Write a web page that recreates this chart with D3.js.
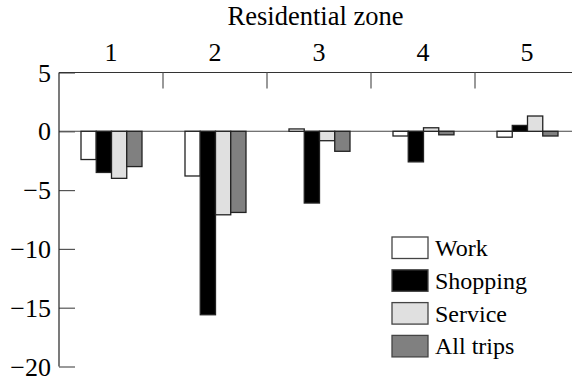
<!DOCTYPE html>
<html>
<head>
<meta charset="utf-8">
<script src="https://cdn.jsdelivr.net/npm/d3@7"></script>
<style>
  html, body { margin: 0; padding: 0; background: #fff; }
  svg { display: block; font-family: "Liberation Serif", "Times New Roman", serif; }
</style>
</head>
<body>
<svg id="chart" width="572" height="381"></svg>
<script>
// Change in trip counts by residential zone and trip purpose
const zones = ["1", "2", "3", "4", "5"];
const seriesNames = ["Work", "Shopping", "Service", "All trips"];
const work     = [-2.4, -3.8,  0.2, -0.4, -0.5];
const shopping = [-3.5, -15.6, -6.1, -2.6, 0.5];
const service  = [-4.0, -7.1, -0.8,  0.3, 1.3];
const allTrips = [-3.0, -6.9, -1.7, -0.3, -0.4];
const yTicks = [5, 0, -5, -10, -15, -20];
const fills = ["#ffffff", "#000000", "#e0e0e0", "#808080"];

const seriesValues = [work, shopping, service, allTrips];
const rows = [];
zones.forEach((z, i) => {
  seriesNames.forEach((s, j) => rows.push({ zone: z, series: s, value: seriesValues[j][i], fill: fills[j] }));
});

const svg = d3.select("#chart");
const plotLeft = 59, plotRight = 579, plotTop = 72.5, plotBottom = 366.5, edge = 572;

const x0 = d3.scaleBand().domain(zones).range([plotLeft, plotRight]).padding(0);
const x1 = d3.scaleBand().domain(seriesNames).range([22, 83]).padding(0);
const y = d3.scaleLinear().domain([-20, 5]).range([plotBottom, plotTop]);

// zero reference line
svg.append("line")
  .attr("x1", plotLeft).attr("x2", edge)
  .attr("y1", y(0)).attr("y2", y(0))
  .attr("stroke", "#444").attr("stroke-width", 1.1);

// bars
svg.append("g").selectAll("rect").data(rows).join("rect")
  .attr("x", d => x0(d.zone) + x1(d.series))
  .attr("width", x1.bandwidth())
  .attr("y", d => y(Math.max(0, d.value)))
  .attr("height", d => Math.abs(y(d.value) - y(0)))
  .attr("fill", d => d.fill)
  .attr("stroke", "#222")
  .attr("stroke-width", 1.3);

// left axis
const yAxis = d3.axisRight(y).tickValues(yTicks).tickSize(16).tickFormat("");
const gy = svg.append("g").attr("transform", `translate(${plotLeft},0)`).call(yAxis);
gy.select(".domain").remove();
gy.selectAll(".tick line").attr("stroke", "#555").attr("stroke-width", 1.2);
svg.append("line")
  .attr("x1", plotLeft).attr("x2", plotLeft)
  .attr("y1", plotTop).attr("y2", plotBottom)
  .attr("stroke", "#222").attr("stroke-width", 1.2);
svg.append("g").selectAll("text").data(yTicks).join("text")
  .attr("x", plotLeft - 8)
  .attr("y", d => y(d))
  .attr("dy", "0.35em")
  .attr("text-anchor", "end")
  .attr("font-size", 26)
  .attr("fill", "#000")
  .text(d => d < 0 ? "\u2212" + Math.abs(d) : String(d));

// top axis with zone boundaries
svg.append("line")
  .attr("x1", plotLeft).attr("x2", edge)
  .attr("y1", plotTop).attr("y2", plotTop)
  .attr("stroke", "#333").attr("stroke-width", 1.2);
svg.append("g").selectAll("line").data(zones.slice(1)).join("line")
  .attr("x1", d => x0(d)).attr("x2", d => x0(d))
  .attr("y1", plotTop).attr("y2", plotTop + 16)
  .attr("stroke", "#555").attr("stroke-width", 1.2);
svg.append("g").selectAll("text").data(zones).join("text")
  .attr("x", d => x0(d) + x0.bandwidth() / 2)
  .attr("y", 60.5)
  .attr("text-anchor", "middle")
  .attr("font-size", 26)
  .text(d => d);
svg.append("text")
  .attr("x", (plotLeft + edge) / 2)
  .attr("y", 25)
  .attr("text-anchor", "middle")
  .attr("font-size", 26.5)
  .text("Residential zone");

// legend
const legend = svg.append("g").attr("transform", "translate(392,237)");
const item = legend.selectAll("g").data(seriesNames).join("g")
  .attr("transform", (d, i) => `translate(0,${i * 32.8})`);
item.append("rect")
  .attr("width", 36).attr("height", 21.5)
  .attr("fill", (d, i) => fills[i])
  .attr("stroke", "#444").attr("stroke-width", 1.3);
item.append("text")
  .attr("x", 43).attr("y", 19)
  .attr("font-size", 24)
  .text(d => d);
</script>
</body>
</html>
